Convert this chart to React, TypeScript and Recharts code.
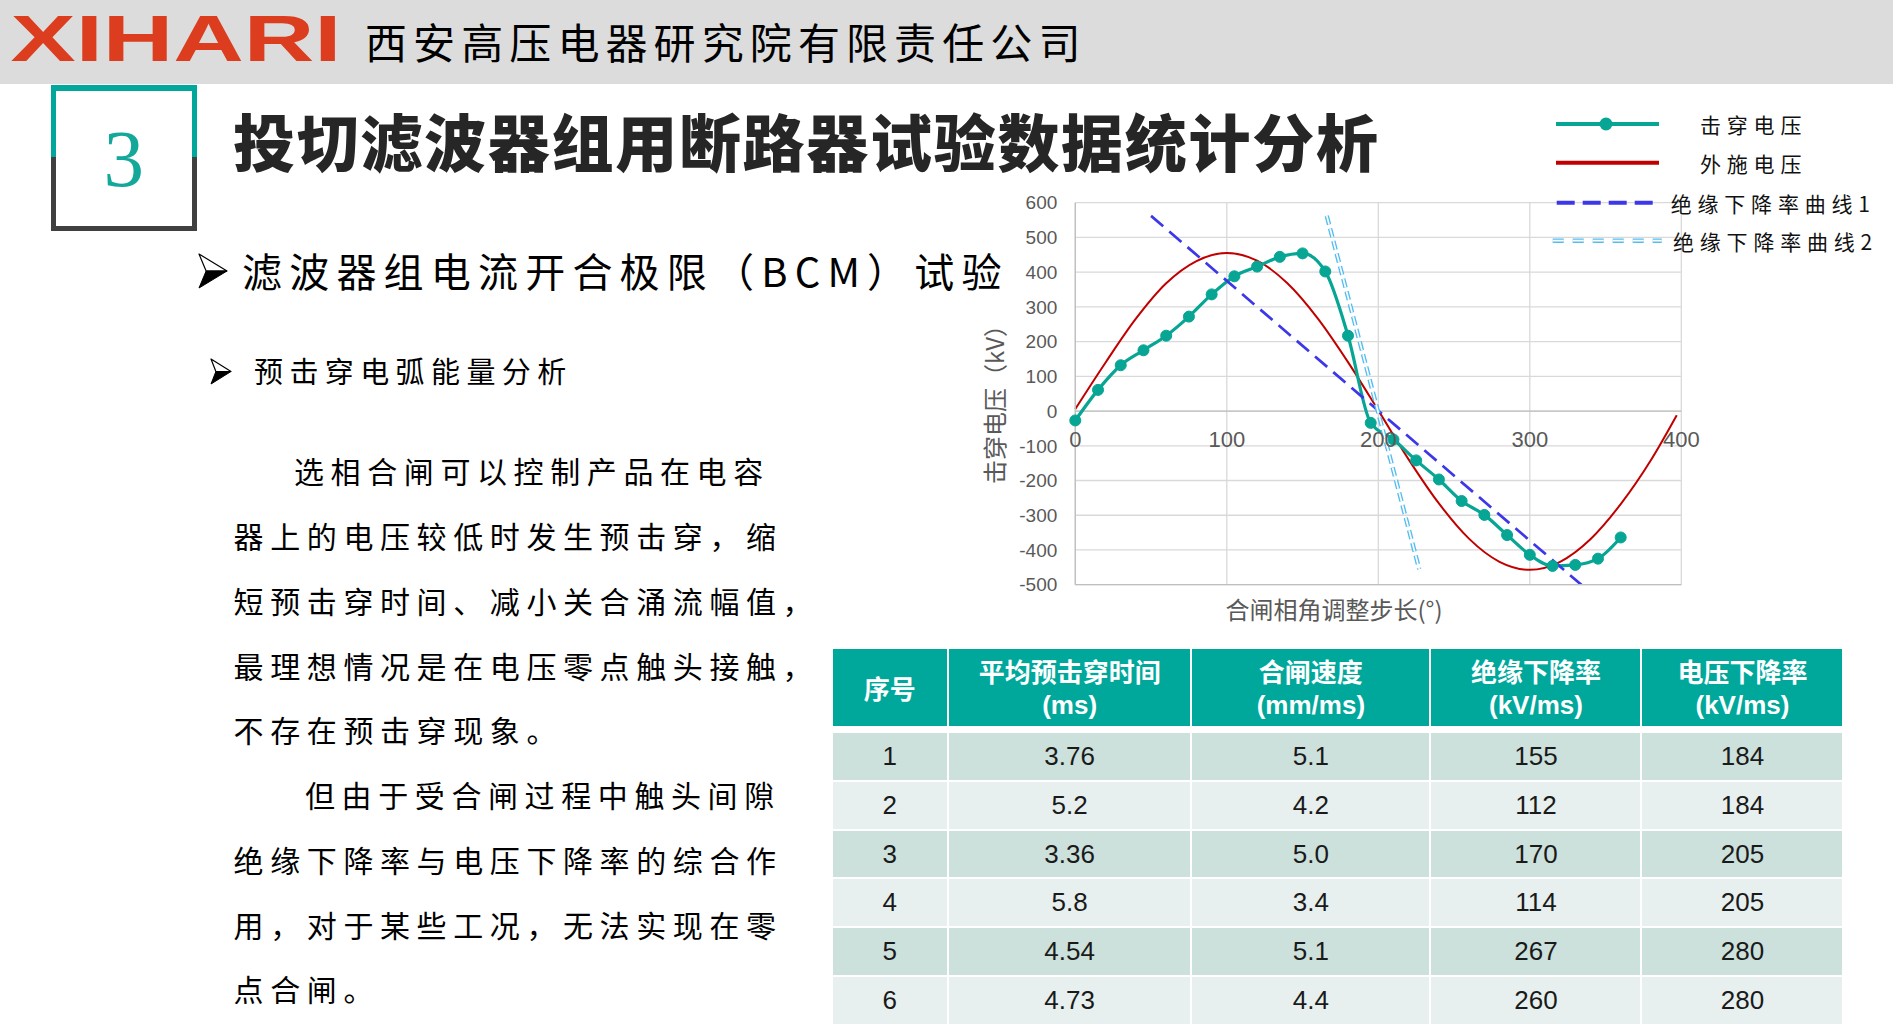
import React from 'react'
import {
  CartesianGrid,
  Legend,
  Line,
  LineChart,
  ReferenceLine,
  XAxis,
  YAxis,
} from 'recharts'

// values: closing angle (°) vs voltage (kV)
const angleTicks = [0, 100, 200, 300, 400]
const kvTicks = [-500, -400, -300, -200, -100, 0, 100, 200, 300, 400, 500, 600]

const breakdownAngle = [0, 15, 30, 45, 60, 75, 90, 105, 120, 135, 150, 165, 180, 195, 210, 225, 240, 255, 270, 285, 300, 315, 330, 345, 360]
const breakdownKv = [-27, 61, 132, 175, 217, 272, 336, 388, 416, 444, 454, 402, 217, -34, -82, -142, -197, -259, -299, -357, -414, -446, -443, -425, -364]

const appliedAngle = [0, 20, 40, 60, 80, 100, 120, 140, 160, 180, 200, 220, 240, 260, 280, 300, 320, 340, 360, 380, 397]
const appliedKv = [6, 140, 266, 368, 432, 455, 433, 368, 267, 141, 2, -139, -266, -368, -434, -457, -434, -369, -268, -141, -12]

const rate1Angle = [50, 350]
const rate1Kv = [562, -560]
const rate2Angle = [166, 227]
const rate2Kv = [562, -455]

const seriesNames = ['击穿电压', '外施电压', '绝缘下降率曲线1', '绝缘下降率曲线2']

// table
const tableHeads = [['序号'], ['平均预击穿时间', '(ms)'], ['合闸速度', '(mm/ms)'], ['绝缘下降率', '(kV/ms)'], ['电压下降率', '(kV/ms)']]
const rowNo = ['1', '2', '3', '4', '5', '6']
const preArcTime = ['3.76', '5.2', '3.36', '5.8', '4.54', '4.73']
const closingSpeed = ['5.1', '4.2', '5.0', '3.4', '5.1', '4.4']
const insulationRate = ['155', '112', '170', '114', '267', '260']
const voltageRate = ['184', '184', '205', '205', '280', '280']

const paragraph = [
  '选相合闸可以控制产品在电容',
  '器上的电压较低时发生预击穿，缩',
  '短预击穿时间、减小关合涌流幅值，',
  '最理想情况是在电压零点触头接触，',
  '不存在预击穿现象。',
  '但由于受合闸过程中触头间隙',
  '绝缘下降率与电压下降率的综合作',
  '用，对于某些工况，无法实现在零',
  '点合闸。',
]

const toPoints = (xs: number[], ys: number[]) => xs.map((x, i) => ({ x, y: ys[i] }))

const CJK = '"Noto Sans CJK SC", sans-serif'
const LATIN = '"Liberation Sans", Arial, sans-serif'
const TEAL = '#00a89c'
const GREEN = '#06a594'
const RED = '#c00000'
const BLUE = '#3c37e8'
const LIGHT = '#54bdf0'

const CHART_W = 933
const CHART_H = 540
const MARGIN = { top: 102.7, right: 211.7, bottom: 5.3, left: 0 }
const X_AXIS_H = 50
const PLOT_H = CHART_H - MARGIN.top - MARGIN.bottom - X_AXIS_H
const Y_MIN = kvTicks[0]
const Y_MAX = kvTicks[kvTicks.length - 1]
const ZERO_Y = MARGIN.top + (PLOT_H * Y_MAX) / (Y_MAX - Y_MIN)

const AngleTick = (props: any) => (
  <text
    x={props.x}
    y={ZERO_Y + 28}
    textAnchor="middle"
    dominantBaseline="central"
    fill="#595959"
    fontSize={22}
    fontFamily={LATIN}
  >
    {props.payload.value}
  </text>
)

const XTitle = () => (
  <text x={374} y={508.5} textAnchor="middle" dominantBaseline="central" fill="#595959" fontSize={24} fontFamily={CJK}>
    合闸相角调整步长(°)
  </text>
)

const YTitle = () => (
  <text
    transform="translate(33, 298.5) rotate(-90)"
    textAnchor="middle"
    dominantBaseline="central"
    fill="#595959"
    fontSize={24}
    fontFamily={CJK}
  >
    击穿电压（kV）
  </text>
)

function ChartLegend() {
  const t = { fontFamily: CJK, fontSize: 21, fill: '#111', letterSpacing: '5.8px' }
  return (
    <svg width={345} height={160} style={{ display: 'block', overflow: 'visible' }}>
      <line x1={16} x2={119} y1={24} y2={24} stroke={GREEN} strokeWidth={4} />
      <circle cx={66} cy={24} r={6.5} fill={GREEN} />
      <text x={160} y={24} dominantBaseline="central" style={t}>{seriesNames[0]}</text>

      <line x1={16} x2={119} y1={62.7} y2={62.7} stroke={RED} strokeWidth={4} />
      <text x={160} y={62.7} dominantBaseline="central" style={t}>{seriesNames[1]}</text>

      <line x1={16.7} x2={116} y1={102.7} y2={102.7} stroke={BLUE} strokeWidth={4} strokeDasharray="18 8" />
      <text x={130.7} y={102.7} dominantBaseline="central" style={t}>{seriesNames[2]}</text>

      <line x1={12.7} x2={121.7} y1={140.7} y2={140.7} stroke={LIGHT} strokeWidth={4.6} strokeDasharray="11 9" />
      <line x1={12.7} x2={121.7} y1={140.7} y2={140.7} stroke="#fff" strokeWidth={1.8} strokeDasharray="11 9" />
      <text x={133} y={140.7} dominantBaseline="central" style={t}>{seriesNames[3]}</text>
    </svg>
  )
}

function VoltageChart() {
  return (
    <LineChart width={CHART_W} height={CHART_H} margin={MARGIN}>
      <CartesianGrid stroke="#d9d9d9" strokeWidth={1.3} />
      <XAxis
        type="number"
        dataKey="x"
        domain={[0, 400]}
        ticks={angleTicks}
        interval={0}
        height={X_AXIS_H}
        axisLine={{ stroke: '#bfbfbf', strokeWidth: 1.3 }}
        tickLine={false}
        tick={AngleTick}
        label={{ content: XTitle }}
      />
      <YAxis
        type="number"
        domain={[Y_MIN, Y_MAX]}
        ticks={kvTicks}
        interval={0}
        width={115.3}
        axisLine={{ stroke: '#bfbfbf', strokeWidth: 1.3 }}
        tickLine={false}
        tickSize={6}
        tickMargin={12}
        tick={{ fill: '#595959', fontSize: 19, fontFamily: LATIN }}
        label={{ content: YTitle }}
      />
      <YAxis yAxisId="overflow" hide width={0} domain={[Y_MIN, Y_MAX]} allowDataOverflow />
      <ReferenceLine y={0} stroke="#bfbfbf" strokeWidth={1.3} />
      <Legend
        content={ChartLegend}
        layout="horizontal"
        verticalAlign="middle"
        align="center"
        wrapperStyle={{ left: 580, top: 0, width: 345, height: 160 }}
      />
      <Line
        data={toPoints(appliedAngle, appliedKv)}
        dataKey="y"
        name={seriesNames[1]}
        type="monotone"
        stroke={RED}
        strokeWidth={2}
        dot={false}
        activeDot={false}
        isAnimationActive={false}
      />
      <Line
        data={toPoints(breakdownAngle, breakdownKv)}
        dataKey="y"
        name={seriesNames[0]}
        type="monotone"
        stroke={GREEN}
        strokeWidth={3.2}
        dot={{ r: 5.5, fill: GREEN, stroke: GREEN, strokeWidth: 1 }}
        activeDot={false}
        isAnimationActive={false}
      />
      <Line
        data={toPoints(rate1Angle, rate1Kv)}
        dataKey="y"
        yAxisId="overflow"
        name={seriesNames[2]}
        type="linear"
        stroke={BLUE}
        strokeWidth={2.7}
        strokeDasharray="16 8"
        dot={false}
        activeDot={false}
        isAnimationActive={false}
      />
      <Line
        data={toPoints(rate2Angle, rate2Kv)}
        dataKey="y"
        name={seriesNames[3]}
        type="linear"
        stroke={LIGHT}
        strokeWidth={4.4}
        strokeDasharray="9 4"
        dot={false}
        activeDot={false}
        isAnimationActive={false}
      />
      <Line
        data={toPoints(rate2Angle, rate2Kv)}
        dataKey="y"
        legendType="none"
        type="linear"
        stroke="#fff"
        strokeWidth={1.7}
        strokeDasharray="9 4"
        dot={false}
        activeDot={false}
        isAnimationActive={false}
      />
    </LineChart>
  )
}

// 3D arrowhead bullet: white upper facet, black lower facet
function Arrowhead({ left, top, w, h }: { left: number; top: number; w: number; h: number }) {
  return (
    <svg style={{ position: 'absolute', left, top }} width={w + 2} height={h + 2}>
      <polygon points={`1,1 ${w},${h / 2 + 1} ${w * 0.28},${h / 2 + 1}`} fill="#fff" stroke="#000" strokeWidth={1.2} strokeLinejoin="round" />
      <polygon points={`${w * 0.28},${h / 2 + 1} ${w},${h / 2 + 1} 1,${h + 1}`} fill="#000" stroke="#000" strokeWidth={1} strokeLinejoin="round" />
    </svg>
  )
}

function DataTable() {
  const cols = [rowNo, preArcTime, closingSpeed, insulationRate, voltageRate]
  const widths = [114.3, 241.3, 237.2, 209, 200]
  const grid = widths.map((w) => `${w}px`).join(' ')
  return (
    <div style={{ position: 'absolute', left: 832.7, top: 649, width: 1010 }}>
      <div style={{ display: 'grid', gridTemplateColumns: grid, columnGap: 2 }}>
        {tableHeads.map((h, i) => (
          <div
            key={i}
            style={{
              background: TEAL,
              height: 77,
              color: '#fff',
              fontWeight: 700,
              fontSize: 26,
              display: 'flex',
              flexDirection: 'column',
              justifyContent: 'center',
              alignItems: 'center',
              lineHeight: '34px',
              fontFamily: CJK,
            }}
          >
            {h.map((line, j) => (
              <div key={j} style={{ fontFamily: j === 0 ? CJK : LATIN }}>{line}</div>
            ))}
          </div>
        ))}
      </div>
      <div style={{ display: 'grid', gridTemplateColumns: grid, columnGap: 2, rowGap: 2, marginTop: 7 }}>
        {rowNo.map((_, r) =>
          cols.map((col, c) => (
            <div
              key={`${r}-${c}`}
              style={{
                background: r % 2 === 0 ? '#cce0dc' : '#e7f0ee',
                height: 46.8,
                lineHeight: '46.8px',
                textAlign: 'center',
                fontSize: 26,
                color: '#1a1a1a',
                fontFamily: LATIN,
              }}
            >
              {col[r]}
            </div>
          )),
        )}
      </div>
    </div>
  )
}

export default function App() {
  const lineStarts = [294, 233.6, 233.6, 233.6, 233.6, 305, 233.6, 233.6, 233.6]
  return (
    <div
      style={{
        position: 'absolute',
        left: 0,
        top: 0,
        width: 1893,
        height: 1034,
        overflow: 'hidden',
        background: '#fff',
        fontFamily: CJK,
      }}
    >
      {/* header band */}
      <div style={{ position: 'absolute', left: 0, top: 0, width: 1893, height: 84, background: '#dcdcdc' }} />
      <svg style={{ position: 'absolute', left: 0, top: 0 }} width={360} height={84}>
        <text
          x={10.5}
          y={61}
          textLength={331}
          lengthAdjust="spacingAndGlyphs"
          fontSize={65}
          fontWeight={900}
          fill="#dc3d1e"
          fontFamily={LATIN}
        >
          XIHARI
        </text>
      </svg>
      <div
        style={{
          position: 'absolute',
          left: 365,
          top: 11,
          height: 60,
          lineHeight: '60px',
          fontSize: 42,
          letterSpacing: '6.1px',
          color: '#000',
          whiteSpace: 'nowrap',
        }}
      >
        西安高压电器研究院有限责任公司
      </div>

      {/* section number box */}
      <div
        style={{
          position: 'absolute',
          left: 51,
          top: 85.3,
          width: 145.7,
          height: 145.4,
          background: `linear-gradient(to bottom, ${TEAL} 0px, ${TEAL} 72.4px, #404040 72.4px, #404040 100%)`,
        }}
      >
        <div style={{ position: 'absolute', left: 5, top: 5.7, right: 5, bottom: 5, background: '#fff' }} />
        <div
          style={{
            position: 'absolute',
            left: 0,
            width: 145.7,
            top: 24,
            height: 100,
            lineHeight: '100px',
            textAlign: 'center',
            fontFamily: '"Liberation Serif", "Times New Roman", serif',
            fontSize: 81,
            color: '#13a89a',
          }}
        >
          3
        </div>
      </div>

      {/* title */}
      <div
        style={{
          position: 'absolute',
          left: 233,
          top: 100,
          height: 80,
          lineHeight: '80px',
          fontSize: 62,
          fontWeight: 900,
          letterSpacing: '1.7px',
          color: '#262626',
          whiteSpace: 'nowrap',
        }}
      >
        投切滤波器组用断路器试验数据统计分析
      </div>

      {/* bullets */}
      <Arrowhead left={198} top={253} w={29} h={34} />
      <div
        style={{
          position: 'absolute',
          left: 242,
          top: 243,
          height: 54,
          lineHeight: '54px',
          fontSize: 40,
          letterSpacing: '7.2px',
          color: '#000',
          whiteSpace: 'nowrap',
        }}
      >
        滤波器组电流开合极限（BCM）试验
      </div>
      <Arrowhead left={209.5} top={358} w={21} h={25} />
      <div
        style={{
          position: 'absolute',
          left: 254,
          top: 350,
          height: 40,
          lineHeight: '40px',
          fontSize: 29,
          letterSpacing: '6.4px',
          color: '#000',
          whiteSpace: 'nowrap',
        }}
      >
        预击穿电弧能量分析
      </div>

      {/* paragraph */}
      {paragraph.map((line, i) => (
        <div
          key={i}
          style={{
            position: 'absolute',
            left: lineStarts[i],
            top: 472.4 + i * 64.75 - 27,
            height: 50,
            lineHeight: '50px',
            fontSize: 30,
            letterSpacing: '6.6px',
            color: '#000',
            whiteSpace: 'nowrap',
          }}
        >
          {line}
        </div>
      ))}

      {/* chart */}
      <div style={{ position: 'absolute', left: 960, top: 100, width: CHART_W, height: CHART_H }}>
        <VoltageChart />
      </div>

      <DataTable />
    </div>
  )
}
